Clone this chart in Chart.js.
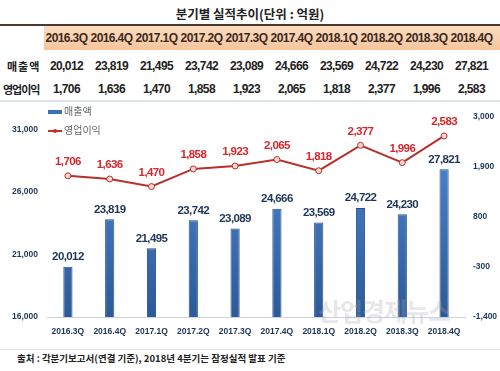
<!DOCTYPE html>
<html>
<head>
<meta charset="utf-8">
<script src="https://cdn.jsdelivr.net/npm/chart.js@4.4.0/dist/chart.umd.min.js"></script>
<style>
  body { margin: 0; background: #fff; }
  #page { position: relative; width: 500px; height: 371px; overflow: hidden; font-family: "Liberation Sans", "Noto Sans CJK KR", sans-serif; }
  #title { position: absolute; top: 4px; left: 0; width: 500px; text-align: center; font-family: "Noto Sans CJK KR"; font-weight: 700; font-size: 12.5px; color: #222; }
  #tbl { position: absolute; top: 24px; left: 0; width: 500px; border-collapse: collapse; table-layout: fixed; border-top: 2px solid #4a3a2e; border-bottom: 2px solid #dde3ee; }
  #tbl td { padding: 0; text-align: center; font-weight: 700; font-size: 12px; letter-spacing: -0.6px; color: #222; white-space: nowrap; }
  #tbl tr.head td { height: 24px; background: linear-gradient(#fbdcc0, #f6c59c); color: #3b2a1e; }
  #tbl tr.head td.lab { background: #fff; }
  #tbl tr.row td { height: 23px; }
  #tbl tr.row1 td { padding-top: 4px; }
  #tbl td.lab { font-family: "Noto Sans CJK KR"; font-size: 11px; text-align: left; }
  #salesRow td.lab { letter-spacing: 1px; padding-left: 7px; }
  #profitRow td.lab { letter-spacing: -1px; padding-left: 3px; }
  #box { position: absolute; left: 0; top: 100px; width: 500px; height: 245px; }
  .leg { position: absolute; left: 48px; font-family: "Noto Sans CJK KR"; font-size: 10px; color: #666; }
  #foot { position: absolute; left: 0; top: 349px; width: 500px; border-top: 1px solid #dbe4f0; font-family: "Noto Sans CJK KR"; font-weight: 700; font-size: 9.5px; color: #222; padding-left: 17px; padding-top: 1px; }
  #wm { position: absolute; left: 318px; top: 292px; font-family: "Noto Sans CJK KR"; font-weight: 700; font-size: 25px; color: rgba(170,170,170,0.28); letter-spacing: -1px; }
</style>
</head>
<body>
<div id="page">
  <div id="title">분기별 실적추이(단위 : 억원)</div>
  <table id="tbl">
    <colgroup><col style="width:44px"><col span="10" style="width:45px"><col style="width:6px"></colgroup>
    <tr class="head" id="headRow"><td class="lab"></td></tr>
    <tr class="row row1" id="salesRow"><td class="lab">매출액</td></tr>
    <tr class="row" id="profitRow"><td class="lab">영업이익</td></tr>
  </table>
  <div id="box"><canvas id="chart"></canvas></div>
  <div class="leg" style="top:103px"><span style="display:inline-block;width:14px;height:4px;background:#3d6fb5;vertical-align:middle;margin-right:2px"></span>매출액</div>
  <div class="leg" style="top:122px"><span style="display:inline-block;width:14px;height:2px;background:#c0302e;vertical-align:middle;margin-right:2px;position:relative"><span style="position:absolute;left:5px;top:-1px;width:4px;height:4px;border-radius:50%;background:#c0302e"></span></span>영업이익</div>
  <div id="wm">산업경제뉴스</div>
  <div id="foot">출처 : 각분기보고서(연결 기준), 2018년 4분기는 잠정실적 발표 기준</div>
</div>
<script>
// quarters and figures (unit: 억원)
const quarters = ['2016.3Q', '2016.4Q', '2017.1Q', '2017.2Q', '2017.3Q', '2017.4Q', '2018.1Q', '2018.2Q', '2018.3Q', '2018.4Q'];
const sales = [20012, 23819, 21495, 23742, 23089, 24666, 23569, 24722, 24230, 27821];
const profit = [1706, 1636, 1470, 1858, 1923, 2065, 1818, 2377, 1996, 2583];
const salesTicks = [16000, 21000, 26000, 31000];
const profitTicks = [-1400, -300, 800, 1900, 3000];

const fmt = v => v.toLocaleString('en-US');

// fill the table from the same arrays
function fillRow(id, values, f) {
    const row = document.getElementById(id);
    values.forEach(v => {
        const td = document.createElement('td');
        td.textContent = f(v);
        row.appendChild(td);
    });
    row.appendChild(document.createElement('td'));
}
fillRow('headRow', quarters, q => q);
fillRow('salesRow', sales, fmt);
fillRow('profitRow', profit, fmt);

// value labels above bars and points
const valueLabels = {
    id: 'valueLabels',
    afterDatasetsDraw(chart) {
        const ctx = chart.ctx;
        ctx.save();
        ctx.textAlign = 'center';
        ctx.textBaseline = 'bottom';
        ctx.letterSpacing = '-0.6px';
        ctx.font = 'bold 11.5px "Liberation Sans"';
        chart.data.datasets.forEach((ds, i) => {
            const meta = chart.getDatasetMeta(i);
            meta.data.forEach((el, j) => {
                if (ds.type === 'bar') {
                    ctx.fillStyle = '#1f3556';
                    ctx.fillText(fmt(ds.data[j]), el.x, el.y - 4);
                } else {
                    ctx.fillStyle = '#d9262b';
                    ctx.fillText(fmt(ds.data[j]), el.x, el.y - 8);
                }
            });
        });
        ctx.restore();
    }
};

const tickFont = { family: 'Liberation Sans', size: 8.5, weight: 'bold' };

const ctx = document.getElementById('chart').getContext('2d');
const barFill = ctx.createLinearGradient(0, 60, 0, 218);
barFill.addColorStop(0, '#4a80c8');
barFill.addColorStop(1, '#2c5a98');

new Chart(ctx, {
    data: {
        labels: quarters,
        datasets: [
            {
                type: 'line',
                label: '영업이익',
                data: profit,
                yAxisID: 'y1',
                borderColor: '#b8302c',
                borderWidth: 2,
                pointRadius: 3,
                pointBackgroundColor: '#f3d6d2',
                pointBorderColor: '#b8302c',
                pointBorderWidth: 1,
                tension: 0
            },
            {
                type: 'bar',
                label: '매출액',
                data: sales,
                yAxisID: 'y',
                backgroundColor: barFill,
                borderColor: '#24508c',
                borderWidth: 1,
                barPercentage: 0.22,
                categoryPercentage: 1
            }
        ]
    },
    options: {
        responsive: true,
        maintainAspectRatio: false,
        animation: false,
        layout: { padding: { top: 17, left: 0, right: 0, bottom: 0 } },
        plugins: { legend: { display: false }, tooltip: { enabled: false } },
        scales: {
            x: {
                grid: { display: false },
                border: { color: '#c9d3e3' },
                ticks: { color: '#1f3556', font: tickFont, padding: 2 },
                afterFit: s => { s.height = 28; }
            },
            y: {
                position: 'left',
                min: 16000,
                max: 32000,
                grid: { display: false },
                border: { display: false },
                afterBuildTicks: s => { s.ticks = salesTicks.map(v => ({ value: v })); },
                ticks: { color: '#1f3556', font: tickFont, padding: 1, callback: v => fmt(v) },
                afterFit: s => { s.width = 47; }
            },
            y1: {
                position: 'right',
                min: -1400,
                max: 3000,
                grid: { display: false },
                border: { display: false },
                afterBuildTicks: s => { s.ticks = profitTicks.map(v => ({ value: v })); },
                ticks: { color: '#1f3556', font: tickFont, padding: 0, callback: v => fmt(v) },
                afterFit: s => { s.width = 35; }
            }
        }
    },
    plugins: [valueLabels]
});
</script>
</body>
</html>
